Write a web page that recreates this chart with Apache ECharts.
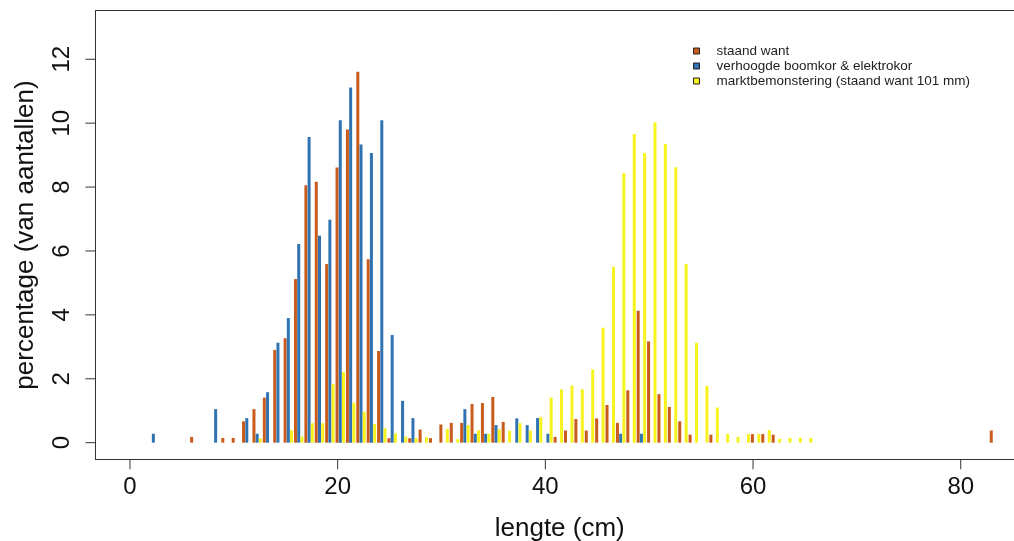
<!DOCTYPE html>
<html><head><meta charset="utf-8">
<script src="https://cdn.jsdelivr.net/npm/echarts@6/dist/echarts.min.js"></script>
<style>html,body{margin:0;padding:0;background:#fff}#c{width:1014px;height:541px}</style>
</head><body><div id="c"></div>
<script>
// ---- data (length in cm -> percentage of counts) ----
const seriesNames = ['staand want', 'verhoogde boomkor & elektrokor', 'marktbemonstering (staand want 101 mm)'];

const staandLengths = [6, 9, 10, 11, 12, 13, 14, 15, 16, 17, 18, 19, 20, 21, 22, 23, 24, 25, 27, 28, 29, 30, 31, 32, 33, 34, 35, 36, 41, 42, 43, 44, 45, 46, 47, 48, 49, 50, 51, 52, 53, 54, 56, 60, 61, 62, 83];
const staandValues  = [0.18, 0.15, 0.15, 0.67, 1.05, 1.41, 2.90, 3.27, 5.12, 8.06, 8.17, 5.59, 8.61, 9.80, 11.61, 5.74, 2.87, 0.14, 0.14, 0.41, 0.14, 0.57, 0.62, 0.62, 1.21, 1.24, 1.43, 0.65, 0.18, 0.38, 0.74, 0.38, 0.76, 1.18, 0.62, 1.64, 4.13, 3.17, 1.52, 1.12, 0.67, 0.25, 0.25, 0.27, 0.27, 0.25, 0.38];

const boomkorLengths = [2, 8, 11, 12, 13, 14, 15, 16, 17, 18, 19, 20, 21, 22, 23, 24, 25, 26, 27, 32, 33, 34, 35, 37, 38, 39, 40, 47, 49];
const boomkorValues  = [0.28, 1.05, 0.77, 0.28, 1.58, 3.13, 3.90, 6.22, 9.57, 6.48, 6.98, 10.09, 11.12, 9.33, 9.07, 10.09, 3.37, 1.31, 0.77, 1.05, 0.28, 0.28, 0.55, 0.76, 0.55, 0.77, 0.28, 0.28, 0.28];

const marktLengths = [12, 15, 16, 17, 18, 19, 20, 21, 22, 23, 24, 25, 26, 27, 28, 30, 31, 32, 33, 34, 35, 36, 37, 38, 39, 40, 41, 42, 43, 44, 45, 46, 47, 48, 49, 50, 51, 52, 53, 54, 55, 56, 57, 58, 59, 60, 61, 62, 63, 64, 65];
const marktValues  = [0.13, 0.39, 0.19, 0.61, 0.61, 1.84, 2.21, 1.25, 0.97, 0.58, 0.45, 0.29, 0.19, 0.14, 0.17, 0.43, 0.11, 0.55, 0.39, 0.28, 0.42, 0.37, 0.61, 0.38, 0.80, 1.41, 1.67, 1.79, 1.67, 2.29, 3.60, 5.50, 8.44, 9.66, 9.07, 10.03, 9.35, 8.62, 5.59, 3.13, 1.78, 1.10, 0.28, 0.18, 0.27, 0.27, 0.40, 0.12, 0.15, 0.15, 0.15];

const xTicks = [0, 20, 40, 60, 80];
const yTicks = [0, 2, 4, 6, 8, 10, 12];

// ---- styling / layout ----
const COLORS = ['#c95b1c', '#2f73b3', '#f7f31e'];
const OFFSETS = [-0.06, 0.25, 0.56]; // side-by-side placement within each 1 cm class
const FONT = 'Liberation Sans, Arial, sans-serif';
const X_MIN = -3.32, X_MAX = 85.13, Y_MIN = -0.52, Y_MAX = 13.52;
const LINE = { color: '#333', width: 1 };
const TICK = 10;

function pts(lens, vals, off) { return lens.map((l, i) => [l + off, vals[i]]); }
const sets = [[staandLengths, staandValues], [boomkorLengths, boomkorValues], [marktLengths, marktValues]];

// outward tick marks, placed through the axes' own scales
function tickSeries(name, data, horizontal) {
  return {
    type: 'custom', name: name, xAxisIndex: 0, yAxisIndex: 0, clip: false, silent: true, z: 5,
    data: data,
    renderItem: function (params, api) {
      const p = api.coord([api.value(0), api.value(1)]);
      const shape = horizontal
        ? { x1: p[0] - TICK, y1: p[1], x2: p[0], y2: p[1] }
        : { x1: p[0], y1: p[1], x2: p[0], y2: p[1] + TICK };
      return { type: 'line', shape: shape, style: { stroke: '#333', lineWidth: 1 } };
    }
  };
}

const chart = echarts.init(document.getElementById('c'), null, { renderer: 'canvas' });
chart.setOption({
  animation: false,
  backgroundColor: '#fff',
  textStyle: { fontFamily: FONT },
  grid: { left: 95.5, top: 10.7, width: 918.5, height: 448.6, containLabel: false, outerBoundsMode: 'none', show: false },
  legend: {
    orient: 'vertical', left: 693, top: 43.5, padding: 0, itemGap: 0,
    itemWidth: 6, itemHeight: 6, icon: 'rect',
    itemStyle: { borderColor: '#222', borderWidth: 1 },
    textStyle: { fontSize: 13.5, color: '#222', fontFamily: FONT, lineHeight: 15, padding: [0, 0, 0, 12] },
    data: seriesNames
  },
  xAxis: [{
    type: 'value', min: X_MIN, max: X_MAX, position: 'bottom',
    splitLine: { show: false }, axisLine: { show: true, onZero: false, lineStyle: LINE },
    axisTick: { show: false },
    axisLabel: { show: true, customValues: xTicks, fontSize: 24, color: '#111', margin: 16, fontFamily: FONT },
    name: 'lengte (cm)', nameLocation: 'middle', nameGap: 57,
    nameTextStyle: { fontSize: 26, color: '#111', fontFamily: FONT, padding: [0, 0, 0, 10] }
  }, {
    type: 'value', min: X_MIN, max: X_MAX, position: 'top',
    splitLine: { show: false }, axisLine: { show: true, onZero: false, lineStyle: LINE },
    axisTick: { show: false }, axisLabel: { show: false }
  }],
  yAxis: {
    type: 'value', min: Y_MIN, max: Y_MAX, position: 'left',
    splitLine: { show: false }, axisLine: { show: true, onZero: false, lineStyle: LINE },
    axisTick: { show: false },
    axisLabel: { show: true, customValues: yTicks, fontSize: 24, color: '#111', margin: 21, rotate: 90, fontFamily: FONT },
    name: 'percentage (van aantallen)', nameLocation: 'middle', nameGap: 57,
    nameTextStyle: { fontSize: 26, color: '#111', fontFamily: FONT }
  },
  series: sets.map((s, k) => ({
    type: 'bar', name: seriesNames[k], xAxisIndex: 0, yAxisIndex: 0,
    data: pts(s[0], s[1], OFFSETS[k]),
    barWidth: 3, barGap: '-100%',
    itemStyle: { color: COLORS[k] },
    emphasis: { disabled: true }, silent: true
  })).concat([
    tickSeries('xTickMarks', xTicks.map(v => [v, Y_MIN]), false),
    tickSeries('yTickMarks', yTicks.map(v => [X_MIN, v]), true)
  ])
});
</script></body></html>
